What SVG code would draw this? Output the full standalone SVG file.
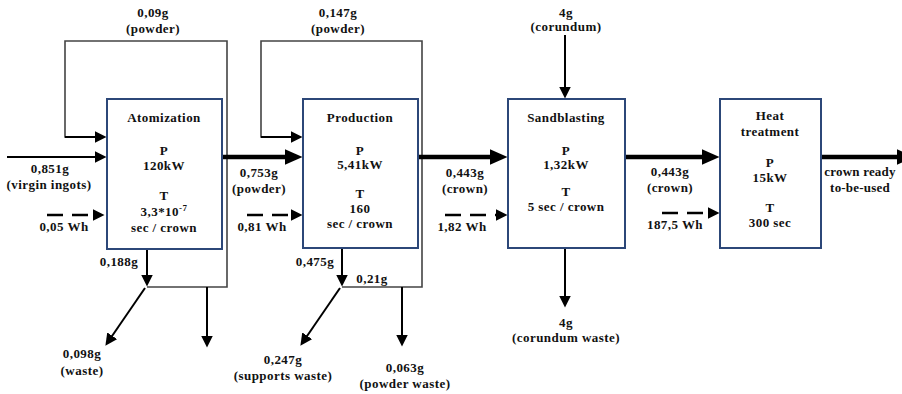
<svg xmlns="http://www.w3.org/2000/svg" width="902" height="394" viewBox="0 0 902 394">
<defs>
<marker id="ah" markerUnits="userSpaceOnUse" markerWidth="13" markerHeight="12" refX="0.5" refY="6" orient="auto"><path d="M0,0 L12,6 L0,12 z" fill="#000"/></marker>
<marker id="ahT" markerUnits="userSpaceOnUse" markerWidth="19" markerHeight="16" refX="0.5" refY="8" orient="auto"><path d="M0,0 L18,8 L0,16 z" fill="#000"/></marker>
<style>
.box{fill:#fff;stroke:#2c4778;stroke-width:2}
text{font-family:"Liberation Serif","Times New Roman",serif;font-weight:bold;font-size:13px;fill:#111;text-anchor:middle;letter-spacing:0.45px}
.thin{fill:none;stroke:#000;stroke-width:2;marker-end:url(#ah)}
.loop{fill:none;stroke:#444;stroke-width:1.6}
.thick{fill:none;stroke:#000;stroke-width:4.5;marker-end:url(#ahT)}
.dash{fill:none;stroke:#000;stroke-width:2.5;stroke-dasharray:16 9;marker-end:url(#ah)}
</style>
</defs>
<rect width="902" height="394" fill="#fff"/>
<g id="connectors">
<polyline class="loop" points="147,287 227,287 227,41 65,41 65,137 95,137"/>
<polyline class="loop" points="342,287 422,287 422,41 261,41 261,137 291,137"/>
<line class="thin" x1="65" y1="137" x2="95" y2="137"/>
<line class="thin" x1="261" y1="137" x2="291" y2="137"/>
<line class="thin" x1="7" y1="157" x2="95" y2="157"/>
<line class="thin" x1="147" y1="249" x2="147" y2="275"/>
<line class="thin" x1="145" y1="288" x2="111.9" y2="336.2"/>
<line class="thin" x1="207" y1="287" x2="207" y2="336"/>
<line class="thick" x1="222" y1="157" x2="285" y2="157"/>
<line class="dash" x1="47" y1="215" x2="93" y2="215"/>
<line class="thin" x1="342" y1="248" x2="342" y2="275"/>
<line class="thin" x1="340" y1="288" x2="306.9" y2="336.2"/>
<line class="thin" x1="402" y1="287" x2="402" y2="335"/>
<line class="dash" x1="247" y1="215" x2="291" y2="215"/>
<line class="thick" x1="418" y1="157" x2="490" y2="157"/>
<line class="thin" x1="565" y1="35" x2="565" y2="87"/>
<line class="thin" x1="565" y1="248" x2="565" y2="296"/>
<line class="dash" x1="445" y1="215" x2="496" y2="215"/>
<line class="thick" x1="625" y1="157" x2="702" y2="157"/>
<line class="dash" x1="662" y1="213" x2="708" y2="213"/>
<line class="thick" x1="821" y1="157" x2="897" y2="157"/>
</g>
<g id="atomization">
<rect class="box" x="107" y="99" width="115" height="150"/>
<text x="164" y="122">Atomization</text>
<text x="164" y="155">P</text>
<text x="164" y="170">120kW</text>
<text x="164" y="200">T</text>
<text x="164" y="216">3,3*10<tspan dy="-5" font-size="9">-7</tspan></text>
<text x="164" y="232">sec / crown</text>
</g>
<g id="production">
<rect class="box" x="303" y="99" width="115" height="149"/>
<text x="360" y="122">Production</text>
<text x="360" y="155">P</text>
<text x="360" y="169">5,41kW</text>
<text x="360" y="198">T</text>
<text x="360" y="213">160</text>
<text x="360" y="228">sec / crown</text>
</g>
<g id="sandblasting">
<rect class="box" x="508" y="99" width="117" height="149"/>
<text x="566" y="122">Sandblasting</text>
<text x="566" y="155">P</text>
<text x="566" y="169">1,32kW</text>
<text x="566" y="196">T</text>
<text x="566" y="211">5 sec / crown</text>
</g>
<g id="heat-treatment">
<rect class="box" x="720" y="99" width="101" height="149"/>
<text x="770" y="120">Heat</text>
<text x="770" y="136">treatment</text>
<text x="770" y="167">P</text>
<text x="770" y="182">15kW</text>
<text x="770" y="212">T</text>
<text x="770" y="227">300 sec</text>
</g>
<g id="labels">
<text x="153" y="17">0,09g</text>
<text x="153" y="33">(powder)</text>
<text x="50" y="173">0,851g</text>
<text x="49" y="189">(virgin ingots)</text>
<text x="64" y="231">0,05 Wh</text>
<text x="119" y="266">0,188g</text>
<text x="82" y="358">0,098g</text>
<text x="82" y="375">(waste)</text>
<text x="259" y="177">0,753g</text>
<text x="259" y="193">(powder)</text>
<text x="262" y="231">0,81 Wh</text>
<text x="338" y="17">0,147g</text>
<text x="338" y="33">(powder)</text>
<text x="315" y="266">0,475g</text>
<text x="372" y="283">0,21g</text>
<text x="283" y="364">0,247g</text>
<text x="283" y="380">(supports waste)</text>
<text x="405" y="372">0,063g</text>
<text x="405" y="388">(powder waste)</text>
<text x="465" y="177">0,443g</text>
<text x="465" y="193">(crown)</text>
<text x="462" y="231">1,82 Wh</text>
<text x="566" y="17">4g</text>
<text x="566" y="31">(corundum)</text>
<text x="566" y="327">4g</text>
<text x="566" y="342">(corundum waste)</text>
<text x="670" y="176">0,443g</text>
<text x="670" y="192">(crown)</text>
<text x="675" y="229">187,5 Wh</text>
<text x="860" y="176" style="letter-spacing:0.2px">crown ready</text>
<text x="860" y="192" style="letter-spacing:0.2px">to-be-used</text>
</g>
</svg>
